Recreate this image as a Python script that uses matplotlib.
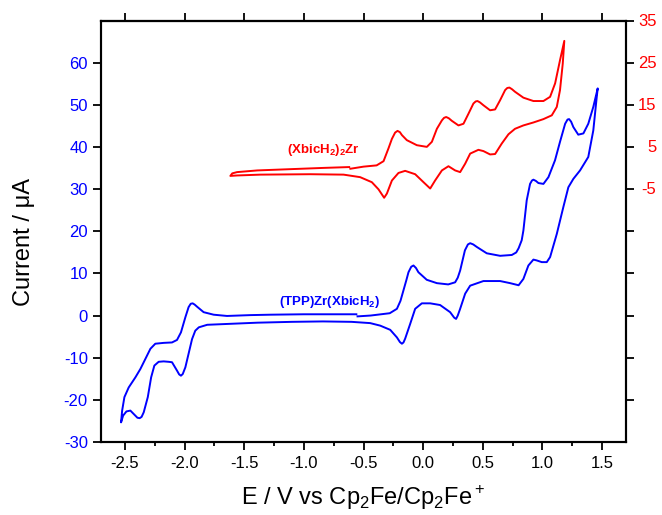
import matplotlib
matplotlib.use("Agg")
import matplotlib.pyplot as plt
from matplotlib.ticker import MultipleLocator, FormatStrFormatter
from matplotlib.transforms import blended_transform_factory, ScaledTranslation

plt.rcParams['font.family'] = ['Liberation Sans', 'DejaVu Sans']
plt.rcParams['mathtext.fontset'] = 'custom'
plt.rcParams['mathtext.rm'] = 'Liberation Sans'
plt.rcParams['mathtext.bf'] = 'Liberation Sans:bold'
plt.rcParams['axes.unicode_minus'] = False

# (TPP)Zr(XbicH2) trace, left axis: start at -0.55 V, anodic sweep, back, and return
blue_E = [-0.55, -0.44, -0.35, -0.28, -0.22, -0.19, -0.165, -0.14, -0.123, -0.1, -0.081, -0.06, -0.04,
          0.03, 0.115, 0.21, 0.268, 0.29, 0.31, 0.35, 0.375, 0.394, 0.42, 0.45, 0.533, 0.645,
          0.743, 0.78, 0.80, 0.826, 0.84, 0.868, 0.896, 0.912, 0.924, 0.945, 0.966, 1.008, 1.05,
          1.105, 1.147, 1.19, 1.21, 1.223, 1.24, 1.259, 1.30, 1.343, 1.384, 1.426, 1.463,
          1.455, 1.426, 1.384, 1.315, 1.259, 1.217, 1.175, 1.12, 1.064, 1.036,
          0.994, 0.952, 0.924, 0.882, 0.84, 0.80, 0.729, 0.645, 0.505, 0.394,
          0.352, 0.31, 0.29, 0.276, 0.26, 0.226, 0.142, 0.059, -0.011, -0.067, -0.109, -0.151,
          -0.165, -0.178, -0.195, -0.22, -0.276, -0.36, -0.444, -0.6, -0.84, -1.1, -1.39, -1.644,
          -1.81, -1.88, -1.91, -1.937, -1.966, -1.993, -2.015, -2.03, -2.045, -2.063, -2.105, -2.133,
          -2.175, -2.217, -2.253, -2.28, -2.308, -2.342, -2.36, -2.376, -2.395, -2.412, -2.454, -2.487,
          -2.515, -2.532,
          -2.523, -2.504, -2.468, -2.412, -2.37, -2.328, -2.286, -2.245, -2.175, -2.105,
          -2.063, -2.03, -1.993, -1.966, -1.948, -1.932, -1.915, -1.895, -1.84, -1.756, -1.644, -1.45,
          -1.28, -1.0, -0.75, -0.56]
blue_I = [-0.2, 0.0, 0.3, 0.55, 1.6, 3.5, 6.0, 8.5, 10.3, 11.6, 11.9, 11.3, 10.3,
          8.5, 7.7, 7.4, 7.9, 9.0, 10.7, 15.5, 16.9, 17.2, 16.9, 16.3, 14.8, 14.2,
          14.4, 15.0, 16.0, 17.9, 20.2, 27.4, 31.3, 32.1, 32.3, 32.0, 31.5, 31.3, 32.9,
          36.9, 41.3, 45.6, 46.6, 46.7, 46.1, 44.8, 43.0, 43.3, 45.6, 49.6, 54.0,
          52.0, 44.0, 37.7, 34.5, 32.5, 30.5, 25.8, 19.4, 13.9, 12.7,
          12.7, 13.1, 13.3, 11.9, 8.7, 7.2, 7.7, 8.2, 8.2, 7.1,
          5.2, 1.6, 0.0, -0.8, -0.5, 0.8, 2.5, 2.9, 2.9, 1.6, -2.0, -5.5,
          -6.4, -6.7, -6.3, -5.2, -3.4, -2.4, -1.8, -1.5, -1.4, -1.5, -1.7, -2.0,
          -2.2, -2.8, -3.6, -5.6, -9.1, -12.3, -13.9, -14.3, -14.0, -13.1, -11.1, -11.0,
          -10.9, -11.0, -11.9, -14.7, -19.4, -23.0, -24.1, -24.4, -24.3, -23.8, -22.6, -22.8,
          -23.8, -25.4,
          -22.6, -19.4, -17.1, -14.7, -12.7, -10.3, -7.9, -6.7, -6.5, -6.4,
          -5.8, -4.0, -0.4, 2.0, 2.8, 2.9, 2.6, 2.1, 0.8, 0.2, -0.1, 0.1,
          0.2, 0.3, 0.3, 0.3]

# (XbicH2)2Zr trace, right axis
red_E = [-0.61, -0.5, -0.39, -0.332, -0.29, -0.262, -0.235, -0.215, -0.195, -0.178, -0.137,
         -0.053, 0.031, 0.073, 0.115, 0.157, 0.175, 0.193, 0.215, 0.24, 0.296, 0.338, 0.38,
         0.421, 0.44, 0.455, 0.475, 0.505, 0.561, 0.603, 0.645, 0.687, 0.705, 0.723, 0.745, 0.77, 0.84,
         0.924, 1.008, 1.064, 1.106, 1.147, 1.183,
         1.17, 1.147, 1.12, 1.078, 1.008, 0.924, 0.84, 0.77, 0.715, 0.659,
         0.603, 0.561, 0.505, 0.463, 0.394, 0.352, 0.31, 0.268, 0.212, 0.157,
         0.1, 0.059, 0.003, -0.067, -0.151, -0.207, -0.262, -0.304, -0.327, -0.36,
         -0.374, -0.43, -0.528, -0.667, -0.946, -1.365, -1.56, -1.616,
         -1.60, -1.56, -1.39, -1.114, -0.835, -0.62]
red_I = [-0.1, 0.4, 0.7, 1.7, 4.8, 7.0, 8.5, 8.9, 8.6, 7.9, 6.7,
         5.5, 5.1, 6.3, 9.4, 11.4, 12.0, 12.2, 11.9, 11.3, 10.2, 10.6, 13.0,
         15.4, 15.9, 16.0, 15.7, 15.0, 13.8, 14.0, 16.2, 18.6, 19.1, 19.2, 18.8, 18.2, 16.8,
         16.0, 16.0, 17.0, 20.2, 25.7, 30.3,
         24.9, 18.6, 14.6, 12.6, 11.7, 10.9, 10.2, 9.4, 8.1, 5.9,
         3.4, 3.3, 4.1, 4.4, 3.5, 1.1, -0.9, -0.5, 0.5, -0.5,
         -2.9, -4.8, -3.3, -1.4, -0.6, -1.1, -2.9, -6.0, -7.0, -5.6,
         -5.0, -3.3, -2.1, -1.5, -1.4, -1.5, -1.7, -1.8,
         -1.2, -0.9, -0.5, -0.2, 0.1, 0.3]

left_ticks = [-30, -20, -10, 0, 10, 20, 30, 40, 50, 60]
right_ticks = [-55, -45, -35, -25, -15, -5, 5, 15, 25, 35]
right_labels = ['', '', '', '', '', '-5', '5', '15', '25', '35']

fig = plt.figure(figsize=(6.62, 5.15), dpi=100)
ax = fig.add_axes([0.1526, 0.1423, 0.7930, 0.8167])
ax2 = ax.twinx()

ax.plot(blue_E, blue_I, color='#0000FF', lw=1.4, solid_joinstyle='round')
ax2.plot(red_E, red_I, color='#FF0000', lw=1.4, solid_joinstyle='round')

ax.set_xlim(-2.7, 1.7)
ax.set_ylim(-30, 70)
ax2.set_ylim(-65, 35)

ax.xaxis.set_major_locator(MultipleLocator(0.5))
ax.xaxis.set_minor_locator(MultipleLocator(0.25))
ax.xaxis.set_major_formatter(FormatStrFormatter('%.1f'))
ax.set_yticks(left_ticks)
ax2.set_yticks(right_ticks)
ax2.set_yticklabels([])

for a in (ax, ax2):
    for s in a.spines.values():
        s.set_linewidth(1.5)

ax.tick_params(axis='x', which='major', direction='out', length=6, width=1.3,
               labelsize=12, pad=4, top=False)
ax.tick_params(axis='x', which='minor', direction='out', length=3, width=1.3, top=False)
ax.tick_params(axis='y', direction='out', length=6, width=1.3, labelsize=12,
               labelcolor='#0000FF', pad=3.5)
ax2.tick_params(axis='y', direction='out', length=6, width=1.3)

# right-aligned red labels on the right axis
rtrans = blended_transform_factory(ax2.transAxes, ax2.transData) + \
    ScaledTranslation(0.305, 0, fig.dpi_scale_trans)
for v, lab in zip(right_ticks, right_labels):
    if lab:
        ax2.text(1.0, v, lab, transform=rtrans, color='#FF0000', fontsize=12,
                 ha='right', va='center', clip_on=False)

# top axis: major ticks only, no labels
secx = ax.secondary_xaxis('top')
secx.xaxis.set_major_locator(MultipleLocator(0.5))
secx.tick_params(direction='out', length=6, width=1.3, labeltop=False)
secx.spines['top'].set_linewidth(1.5)

ax.set_xlabel(r'E / V vs Cp$_2$Fe/Cp$_2$Fe$^+$', fontsize=17, labelpad=9)
ax.set_ylabel('Current / μA', fontsize=17)
ax.yaxis.set_label_coords(-0.125, 0.476)

ax.text(-1.21, 2.4, r'(TPP)Zr(XbicH$_\mathbf{2}$)', color='#0000FF',
        fontsize=9.5, fontweight='bold', ha='left', va='baseline')
ax.text(-1.142, 38.6, r'(XbicH$_\mathbf{2}$)$_\mathbf{2}$Zr', color='#FF0000',
        fontsize=9.5, fontweight='bold', ha='left', va='baseline')

fig.savefig('out.png', dpi=100)
